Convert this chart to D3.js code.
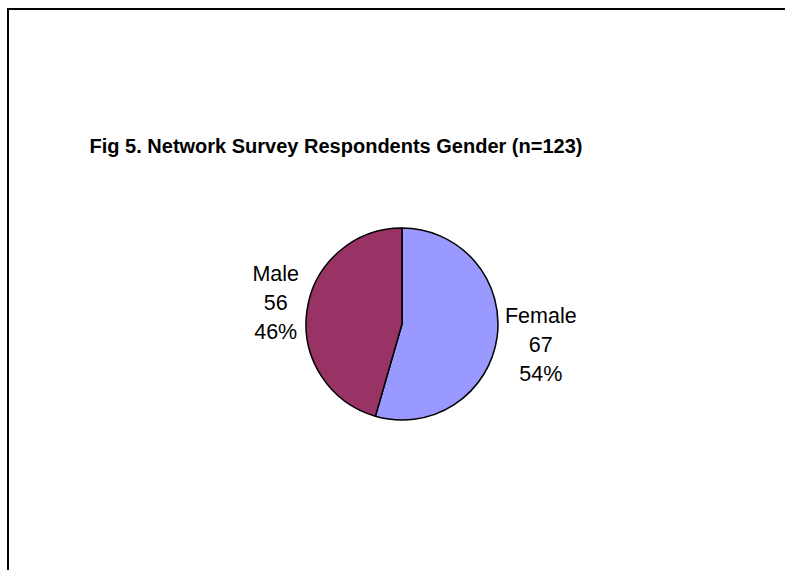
<!DOCTYPE html>
<html>
<head>
<meta charset="utf-8">
<script src="https://cdn.jsdelivr.net/npm/d3@7"></script>
<style>
  body { margin: 0; background: #fff; overflow: hidden; }
  svg { display: block; }
</style>
</head>
<body>
<div class="container"></div>
<script>
var categories = ['Female', 'Male'];
var counts = [67, 56];
var sliceColors = ['#9999ff', '#993366'];
var title = 'Fig 5. Network Survey Respondents Gender (n=123)';

var WIDTH = 785, HEIGHT = 570;
var CX = 402, CY = 324, RADIUS = 96;

var svg = d3.select('.container').append('svg')
    .attr('width', WIDTH)
    .attr('height', HEIGHT);

// chart frame: only the top and left sides are inside the picture
svg.append('path')
    .attr('d', 'M8,' + HEIGHT + 'V9H' + WIDTH)
    .attr('fill', 'none')
    .attr('stroke', '#000')
    .attr('stroke-width', 2);

svg.append('text')
    .attr('x', 336).attr('y', 153)
    .attr('text-anchor', 'middle')
    .attr('font-family', 'Liberation Sans, Arial, sans-serif')
    .attr('font-weight', 'bold')
    .attr('font-size', 20)
    .text(title);

var data = categories.map(function (c, i) {
    return {name: c, value: counts[i], color: sliceColors[i]};
});
var total = d3.sum(counts);

var pie = d3.pie().sort(null).value(function (d) { return d.value; });
var arc = d3.arc().innerRadius(0).outerRadius(RADIUS);
var edgeArc = d3.arc().innerRadius(RADIUS + 8).outerRadius(RADIUS + 8);
var midArc = d3.arc().innerRadius(148).outerRadius(148);

var g = svg.append('g').attr('transform', 'translate(' + CX + ',' + CY + ')');

g.selectAll('path')
    .data(pie(data))
    .enter()
    .append('path')
    .attr('d', arc)
    .attr('fill', function (d) { return d.data.color; })
    .attr('stroke', '#000')
    .attr('stroke-width', 1.5)
    .attr('stroke-linejoin', 'round');

var labels = g.selectAll('text.label')
    .data(pie(data))
    .enter()
    .append('text')
    .attr('class', 'label')
    .attr('font-family', 'Liberation Sans, Arial, sans-serif')
    .attr('font-size', 21.5)
    .attr('text-anchor', 'middle');

labels.each(function (d) {
    var t = d3.select(this);
    var lines = [d.data.name, d.data.value, Math.round(d.data.value / total * 100) + '%'];
    lines.forEach(function (s, i) {
        t.append('tspan').attr('x', 0).attr('dy', i === 0 ? 0 : 29).text(s);
    });
    var box = this.getBBox();
    var px = edgeArc.centroid(d)[0];
    var py = midArc.centroid(d)[1];
    var side = px >= 0 ? 1 : -1;
    var x = px + side * box.width / 2;
    var y = py - (box.y + box.height / 2);
    t.attr('transform', 'translate(' + x + ',' + y + ')');
});
</script>
</body>
</html>
